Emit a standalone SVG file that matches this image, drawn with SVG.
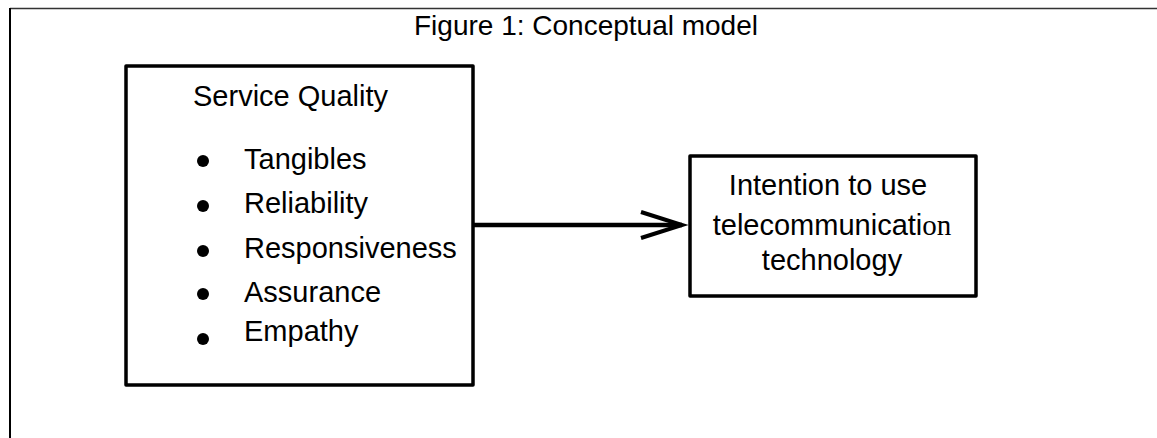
<svg xmlns="http://www.w3.org/2000/svg" width="1157" height="438" viewBox="0 0 1157 438">
  <style>
    .t { font-family: "Liberation Sans", Arial, sans-serif; fill: #000; }
    .box { fill: #fff; stroke: #000; stroke-width: 3.5; stroke-linejoin: round; }
    .dot { fill: #000; }
  </style>
  <defs>
    <marker id="chevron" viewBox="0 0 12 8" refX="11.5" refY="4" markerWidth="12" markerHeight="8" markerUnits="userSpaceOnUse" orient="auto">
      <path d="M0,0 L11.5,4 L0,8" fill="none" stroke="#000" stroke-width="1"/>
    </marker>
  </defs>
  <rect width="1157" height="438" fill="#fff"/>

  <!-- page frame -->
  <g id="frame">
    <line x1="10" y1="8.5" x2="1157" y2="8.5" stroke="#333" stroke-width="1.5"/>
    <line x1="10" y1="8" x2="10" y2="438" stroke="#000" stroke-width="2"/>
  </g>

  <text id="title" class="t" x="586" y="35" font-size="28" text-anchor="middle">Figure 1: Conceptual model</text>

  <!-- connectors -->
  <g id="connectors">
    <line x1="473" y1="225" x2="682" y2="225" stroke="#000" stroke-width="4.5"/>
    <path d="M641,212 L682,225 L641,238" fill="none" stroke="#000" stroke-width="4"/>
  </g>

  <!-- service quality construct -->
  <g id="service-quality">
    <rect class="box" x="126" y="66" width="347" height="319"/>
    <text class="t" x="193" y="106" font-size="29">Service Quality</text>
    <circle class="dot" cx="203" cy="161" r="6"/>
    <circle class="dot" cx="203" cy="206" r="6"/>
    <circle class="dot" cx="203" cy="251" r="6"/>
    <circle class="dot" cx="203" cy="294" r="6"/>
    <circle class="dot" cx="203" cy="339" r="6"/>
    <text class="t" x="244" y="169" font-size="29">Tangibles</text>
    <text class="t" x="244" y="213" font-size="29">Reliability</text>
    <text class="t" x="244" y="258" font-size="29">Responsiveness</text>
    <text class="t" x="244" y="302" font-size="29">Assurance</text>
    <text class="t" x="244" y="341" font-size="29">Empathy</text>
  </g>

  <!-- outcome construct -->
  <g id="intention">
    <rect class="box" x="690" y="156" width="286" height="140"/>
    <text class="t" x="828" y="195" font-size="29" text-anchor="middle">Intention to use</text>
    <text class="t" x="832" y="235" font-size="29" text-anchor="middle">telecommunicati<tspan font-family="Liberation Serif, 'Times New Roman', serif">on</tspan></text>
    <text class="t" x="832" y="270" font-size="29" text-anchor="middle">technology</text>
  </g>
</svg>
